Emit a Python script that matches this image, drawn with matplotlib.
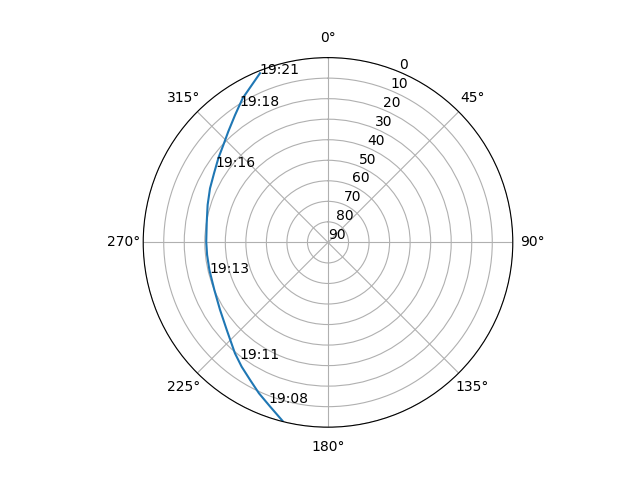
import numpy as np
import matplotlib
matplotlib.use("Agg")
import matplotlib.pyplot as plt

# Pass track (azimuth in degrees, elevation in degrees)
track_az = [194.2, 199.4, 204.6, 209.5, 214.8, 220.0, 229.1, 238.0, 247.3, 256.9,
            264.1, 270.3, 279.7, 287.3, 294.6, 301.5, 307.7, 312.9, 318.0, 323.9,
            329.4, 338.1]
track_el = [0.2, 5.2, 9.2, 13.0, 16.3, 19.5, 24.8, 28.0, 30.0, 30.7,
            30.8, 30.7, 30.1, 28.6, 26.8, 25.0, 22.6, 20.4, 17.4, 13.2,
            8.4, 1.2]

# Time labels along the track
label_times = ["19:08", "19:11", "19:13", "19:16", "19:18", "19:21"]
label_az = [200.5, 217.3, 255.7, 303.7, 327.0, 337.8]
label_el = [6.6, 18.6, 30.4, 24.1, 10.8, 1.6]

r_ticks = [0, 10, 20, 30, 40, 50, 60, 70, 80, 90]

fig = plt.figure(figsize=(6.4, 4.8), dpi=100)
ax = fig.add_subplot(111, projection="polar")
ax.set_theta_zero_location("N")
ax.set_theta_direction(-1)

ax.plot(np.radians(track_az), track_el)
for t, a, e in zip(label_times, label_az, label_el):
    ax.text(np.radians(a), e, t)

ax.set_rlim(90, 0)
ax.set_rticks(r_ticks)

fig.savefig("out.png", dpi=100)
